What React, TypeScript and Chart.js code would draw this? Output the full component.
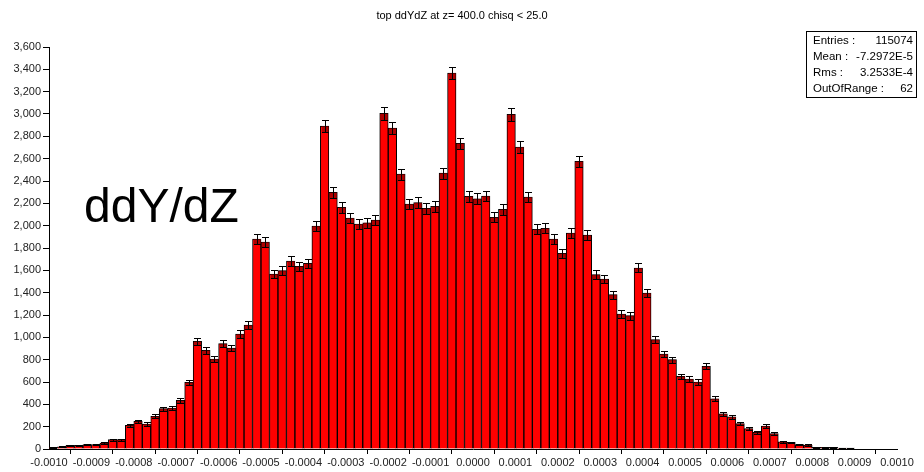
import React, { useEffect, useRef } from 'react';
import { Chart, registerables } from 'chart.js';

Chart.register(...registerables);

// ---- data ----
const binLow = -0.001;
const binWidth = 0.00002;
const counts = [
  15, 20, 33, 33, 40, 40, 54, 84, 84, 212,
  248, 224, 293, 361, 367, 436, 597, 964, 884, 806,
  943, 904, 1030, 1110, 1880, 1854, 1567, 1597, 1683, 1635,
  1662, 1997, 2892, 2298, 2164, 2068, 2015, 2026, 2050, 3005,
  2874, 2462, 2194, 2206, 2155, 2173, 2471, 3367, 2737, 2262,
  2241, 2265, 2074, 2146, 2996, 2704, 2257, 1967, 1976, 1880,
  1752, 1934, 2576, 1916, 1561, 1522, 1382, 1209, 1194, 1621,
  1397, 979, 851, 800, 650, 627, 600, 740, 450, 316,
  287, 227, 182, 149, 206, 137, 65, 59, 39, 36,
  15, 15, 15, 8, 8, 0, 0, 0, 0, 0,
];
const categories = counts.map((_, i) => (binLow + binWidth * (i + 0.5)).toFixed(5));
const xTickLabels = [
  '-0.0010', '-0.0009', '-0.0008', '-0.0007', '-0.0006', '-0.0005', '-0.0004',
  '-0.0003', '-0.0002', '-0.0001', '0.0000', '0.0001', '0.0002', '0.0003',
  '0.0004', '0.0005', '0.0006', '0.0007', '0.0008', '0.0009', '0.0010',
];
const xMin = -0.001;
const xMax = 0.001;
const xStep = 0.0001;
const yMin = 0;
const yMax = 3600;
const yStep = 200;
const titleText = 'top ddYdZ at z= 400.0 chisq < 25.0';
const statsLabels = ['Entries :', 'Mean :', 'Rms :', 'OutOfRange :'];
const statsValues = ['115074', '-7.2972E-5', '3.2533E-4', '62'];
const bigLabel = 'ddY/dZ';

const FONT = '"Liberation Sans", Arial, sans-serif';

const overlayPlugin = {
  id: 'overlay',
  afterDatasetsDraw(chart: any) {
    const ctx = chart.ctx as CanvasRenderingContext2D;
    const meta = chart.getDatasetMeta(0);
    const ys = chart.scales.y;
    ctx.save();
    meta.data.forEach((bar: any, i: number) => {
      const v = counts[i];
      if (v <= 0) return;
      const e = Math.sqrt(v);
      const x = Math.round(bar.x) + 0.5;
      const yv = ys.getPixelForValue(v);
      const yTop = Math.round(ys.getPixelForValue(v + e)) + 0.5;
      const yBot = Math.round(ys.getPixelForValue(Math.max(0, v - e))) + 0.5;
      ctx.fillStyle = 'rgba(110,0,0,0.55)';
      ctx.fillRect(x - 3.5, yv, 7, yBot - yv);
      ctx.strokeStyle = '#000';
      ctx.lineWidth = 1;
      ctx.beginPath();
      ctx.moveTo(x, yTop);
      ctx.lineTo(x, yBot);
      ctx.moveTo(x - 3.5, yTop);
      ctx.lineTo(x + 3.5, yTop);
      ctx.moveTo(x - 3.5, yBot);
      ctx.lineTo(x + 3.5, yBot);
      ctx.stroke();
    });
    ctx.restore();
  },
  afterDraw(chart: any) {
    const ctx = chart.ctx as CanvasRenderingContext2D;
    ctx.save();
    // title
    ctx.fillStyle = '#000';
    ctx.font = `11px ${FONT}`;
    ctx.textAlign = 'center';
    ctx.textBaseline = 'middle';
    ctx.fillText(titleText, 462, 16);
    // big label
    ctx.font = `48px ${FONT}`;
    ctx.textAlign = 'left';
    ctx.textBaseline = 'alphabetic';
    ctx.fillText(bigLabel, 84, 222);
    // stats box
    ctx.fillStyle = '#fff';
    ctx.fillRect(806.5, 31.5, 110, 66);
    ctx.strokeStyle = '#000';
    ctx.lineWidth = 1;
    ctx.strokeRect(806.5, 31.5, 110, 66);
    ctx.fillStyle = '#000';
    ctx.font = `11.5px ${FONT}`;
    ctx.textBaseline = 'middle';
    statsLabels.forEach((lab, i) => {
      const yy = 41 + i * 16;
      ctx.textAlign = 'left';
      ctx.fillText(lab, 813, yy);
      ctx.textAlign = 'right';
      ctx.fillText(statsValues[i], 913, yy);
    });
    ctx.restore();
  },
};

export default function App() {
  const ref = useRef<HTMLCanvasElement | null>(null);
  useEffect(() => {
    if (!ref.current) return;
    const chart = new Chart(ref.current, {
      type: 'bar',
      data: {
        labels: categories,
        datasets: [
          {
            data: counts,
            backgroundColor: '#ff0000',
            borderColor: '#000',
            borderWidth: 1,
            barPercentage: 1,
            categoryPercentage: 1,
            xAxisID: 'x',
            yAxisID: 'y',
          },
        ],
      },
      options: {
        animation: false,
        responsive: false,
        devicePixelRatio: 1,
        layout: { padding: { top: 47, right: 27, left: 0, bottom: 0 } },
        plugins: {
          legend: { display: false },
          tooltip: { enabled: false },
          title: { display: false },
        },
        scales: {
          x: {
            type: 'category',
            display: false,
            offset: true,
          },
          x2: {
            type: 'linear',
            position: 'bottom',
            min: xMin,
            max: xMax,
            offset: false,
            grid: {
              display: true,
              drawOnChartArea: false,
              drawTicks: true,
              tickLength: 5,
              color: '#000',
            },
            border: { display: true, color: '#000', width: 1 },
            ticks: {
              stepSize: xStep,
              autoSkip: false,
              maxRotation: 0,
              padding: 2,
              color: '#222',
              font: { family: FONT, size: 11 },
              callback: (_v: any, i: number) => xTickLabels[i],
            },
            afterFit: (s: any) => {
              s.height = 23;
            },
          },
          y: {
            type: 'linear',
            min: yMin,
            max: yMax,
            grid: {
              display: true,
              drawOnChartArea: false,
              drawTicks: true,
              tickLength: 6,
              color: '#000',
            },
            border: { display: true, color: '#000', width: 1 },
            ticks: {
              stepSize: yStep,
              padding: 2,
              color: '#222',
              font: { family: FONT, size: 11 },
              callback: (v: any) => Number(v).toLocaleString('en-US'),
            },
            afterFit: (s: any) => {
              s.width = 49;
            },
          },
        },
      },
      plugins: [overlayPlugin],
    });
    return () => chart.destroy();
  }, []);
  return (
    <div style={{ position: 'absolute', left: 0, top: 0, width: 924, height: 472, background: '#fff' }}>
      <canvas ref={ref} width={924} height={472} style={{ width: 924, height: 472 }} />
    </div>
  );
}
